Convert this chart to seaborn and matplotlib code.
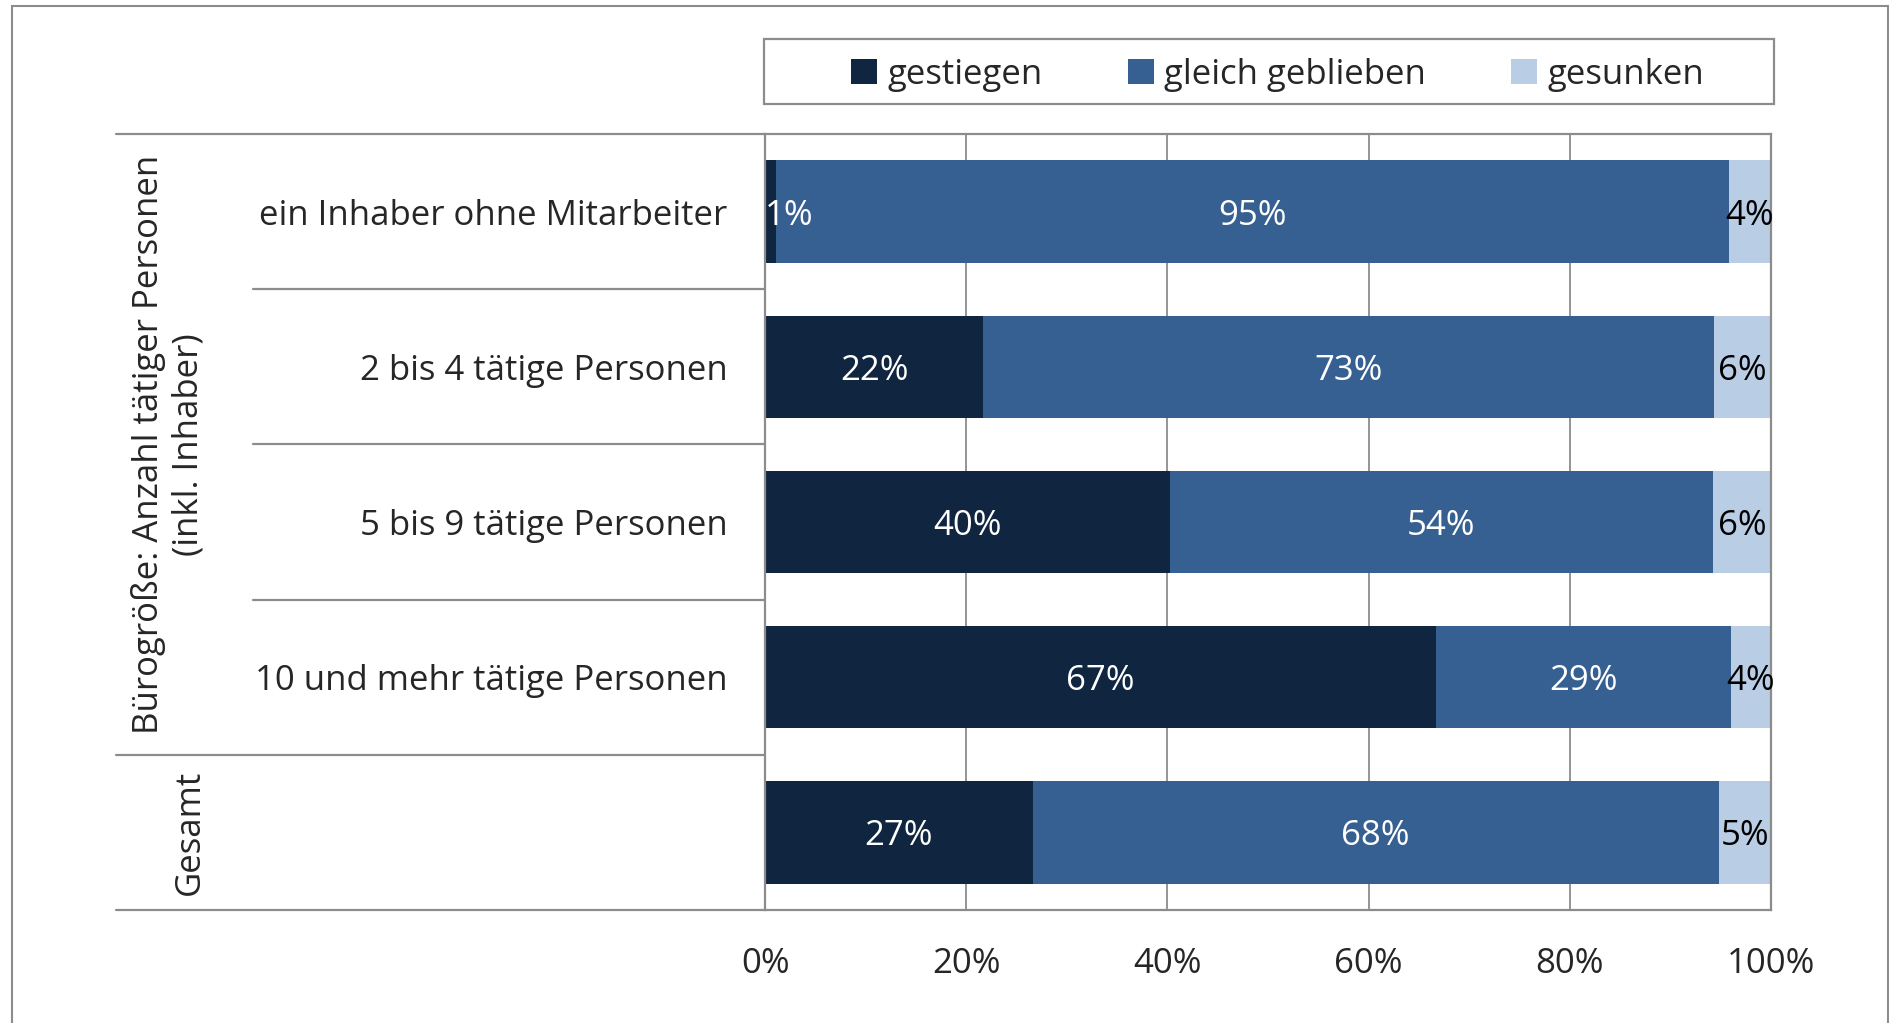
import pandas as pd
import seaborn as sns
import matplotlib.pyplot as plt
from matplotlib.patches import Rectangle, Patch

sns.set_style('white')
plt.rcParams['font.family'] = ['Open Sans', 'DejaVu Sans']

# data (share of respondents, %)
groups = ['ein Inhaber ohne Mitarbeiter', '2 bis 4 tätige Personen', '5 bis 9 tätige Personen',
          '10 und mehr tätige Personen', 'Gesamt']
row_labels = ['ein Inhaber ohne Mitarbeiter', '2 bis 4 tätige Personen', '5 bis 9 tätige Personen',
              '10 und mehr tätige Personen', '']
gestiegen = [1.1, 21.7, 40.2, 66.7, 26.6]
gleich = [94.7, 72.6, 54.0, 29.3, 68.2]
gesunken = [4.2, 5.7, 5.8, 4.0, 5.2]
series_names = ['gestiegen', 'gleich geblieben', 'gesunken']
colors = ['#10253F', '#376092', '#B9CDE5']
x_ticks = [0, 20, 40, 60, 80, 100]

df = pd.DataFrame({'group': groups, 'gestiegen': gestiegen, 'gleich': gleich, 'gesunken': gesunken})
df['c1'] = df.gestiegen
df['c2'] = df.gestiegen + df.gleich
df['c3'] = df.c2 + df.gesunken

fs = 25
grid_col = '#8c8c8c'
fig = plt.figure(figsize=(18.9, 10.23), dpi=100)
ax = fig.add_axes([0.4048, 0.1105, 0.5323, 0.7586])

# stacked bars: draw cumulative totals back to front
for col, c in zip(['c3', 'c2', 'c1'], colors[::-1]):
    sns.barplot(data=df, x=col, y='group', orient='h', color=c, width=0.66,
                linewidth=0, saturation=1, ax=ax)

ax.set_xlim(0, 100)
ax.set_ylim(len(groups) - 0.5, -0.5)
ax.set_xticks(x_ticks, [f'{t}%' for t in x_ticks])
ax.set_yticks(range(len(groups)), row_labels)
ax.set_xlabel('')
ax.set_ylabel('')
ax.tick_params(axis='x', length=0, pad=27, labelsize=fs)
ax.tick_params(axis='y', length=0, pad=27, labelsize=fs)
ax.grid(axis='x', color=grid_col, linewidth=1.3)
ax.set_axisbelow(True)
for s in ax.spines.values():
    s.set_color(grid_col)
    s.set_linewidth(1.6)

# segment labels
for i, row in df.iterrows():
    left = 0
    for val, tc in zip([row.gestiegen, row.gleich, row.gesunken], ['white', 'white', 'black']):
        if val < 3:
            ax.text(left, i, f'{round(val)}%', ha='left', va='center_baseline', color=tc, fontsize=fs)
        else:
            ax.text(left + val / 2, i, f'{round(val)}%', ha='center', va='center_baseline',
                    color=tc, fontsize=fs)
        left += val

# table-like separator lines to the left of the plot
yt = ax.get_yaxis_transform()
for y, x0 in [(-0.5, -0.645), (0.5, -0.509), (1.5, -0.509), (2.5, -0.509), (3.5, -0.645), (4.5, -0.645)]:
    ax.plot([x0, 0], [y, y], transform=yt, color=grid_col, linewidth=1.6, clip_on=False)

ax.text(-0.5934, 1.5, 'Bürogröße: Anzahl tätiger Personen\n(inkl. Inhaber)', transform=yt,
        rotation=90, ha='center', va='center', fontsize=fs, linespacing=1.2)
ax.text(-0.5716, 4, 'Gesamt', transform=yt, rotation=90, ha='center', va='center', fontsize=fs)

# legend with its own wider frame
handles = [Patch(facecolor=c, edgecolor='none') for c in colors]
fig.legend(handles, series_names, loc='center', bbox_to_anchor=(0.676, 0.927), ncol=3,
           frameon=False, fontsize=fs, handlelength=0.75, handleheight=0.75,
           handletextpad=0.3, columnspacing=2.45)
fig.add_artist(Rectangle((764 / 1890, 1 - 104 / 1023), 1010 / 1890, 65 / 1023,
                         transform=fig.transFigure, fill=False, edgecolor=grid_col, linewidth=1.6))
fig.add_artist(Rectangle((12 / 1890, -0.02), 1876 / 1890, 1.014, transform=fig.transFigure,
                         fill=False, edgecolor=grid_col, linewidth=1.5))

fig.savefig('out.png', dpi=100)
